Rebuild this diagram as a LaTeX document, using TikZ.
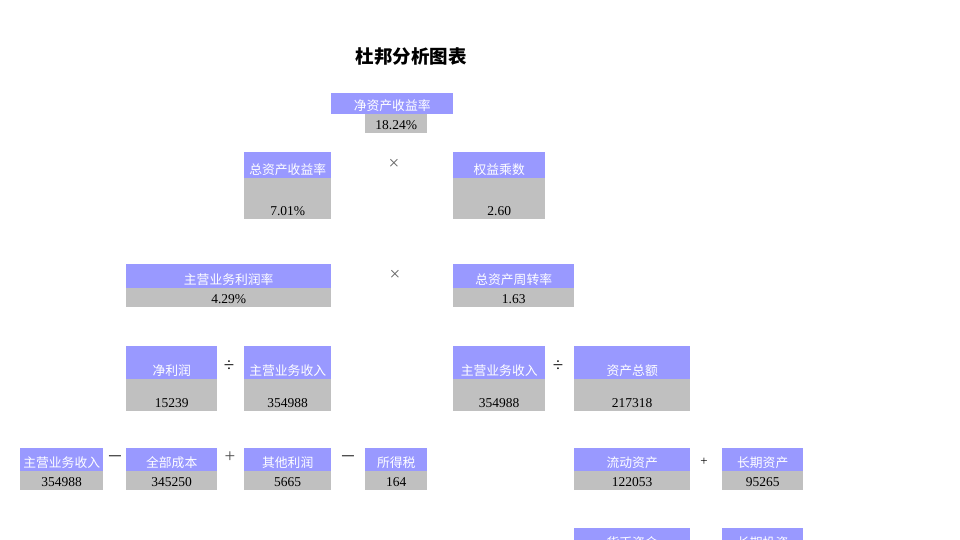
\documentclass[tikz,border=0pt]{standalone}
\usepackage{fontspec}
\setmainfont{Liberation Serif}
\newfontfamily\cjk{Noto Sans CJK SC}
\usepackage{tikz}
\usetikzlibrary{positioning}
\definecolor{headblue}{RGB}{153,153,255}
\definecolor{valgray}{RGB}{192,192,192}

\begin{document}
\begin{tikzpicture}[x=1pt, y=-1pt,
    head/.style={fill=headblue, text=white, font=\cjk\fontsize{12.8}{14}\selectfont,
        inner sep=0pt, text depth=3.5pt, text height=#1, anchor=north west},
    val/.style={fill=valgray, font=\fontsize{13.5}{15}\selectfont,
        inner sep=0pt, text depth=4pt, text height=#1, anchor=north west},
    op/.style={font=\fontsize{19}{20}\selectfont, inner sep=0pt}
]
    \useasboundingbox (0,0) rectangle (960,540);
    \clip (0,0) rectangle (960,540);

    % title
    \node[font=\cjk\bfseries\fontsize{18.5}{20}\selectfont] (title) at (411,57) {杜邦分析图表};

    % level 1: return on equity
    \node[head=17.5pt, minimum width=122] (roe) at (331,93) {净资产收益率};
    \node[val=15pt, minimum width=62] (roe val) at (365,114) {18.24\%};

    % level 2
    \node[head=22.5pt, minimum width=87] (roa) at (244,152) {总资产收益率};
    \node[val=37pt, minimum width=87] (roa val) at (244,178) {7.01\%};
    \node[op, text=black!60] (times1) at (394,164) {×};
    \node[head=22.5pt, minimum width=92] (em) at (453,152) {权益乘数};
    \node[val=37pt, minimum width=92] (em val) at (453,178) {2.60};

    % level 3
    \node[head=20.5pt, minimum width=205] (margin) at (126,264) {主营业务利润率};
    \node[val=15pt, minimum width=205] (margin val) at (126,288) {4.29\%};
    \node[op, text=black!60] (times2) at (395,275) {×};
    \node[head=20.5pt, minimum width=121] (turn) at (453,264) {总资产周转率};
    \node[val=15pt, minimum width=121] (turn val) at (453,288) {1.63};

    % level 4
    \node[head=29.5pt, minimum width=91] (profit) at (126,346) {净利润};
    \node[val=28pt, minimum width=91] (profit val) at (126,379) {15239};
    \node[op] (div1) at (229,366) {÷};
    \node[head=29.5pt, minimum width=87] (sales1) at (244,346) {主营业务收入};
    \node[val=28pt, minimum width=87] (sales1 val) at (244,379) {354988};
    \node[head=29.5pt, minimum width=92] (sales2) at (453,346) {主营业务收入};
    \node[val=28pt, minimum width=92] (sales2 val) at (453,379) {354988};
    \node[op] (div2) at (558,366) {÷};
    \node[head=29.5pt, minimum width=116] (assets) at (574,346) {资产总额};
    \node[val=28pt, minimum width=116] (assets val) at (574,379) {217318};

    % level 5
    \node[head=19.5pt, minimum width=83] (sales3) at (20,448) {主营业务收入};
    \node[val=15pt, minimum width=83] (sales3 val) at (20,471) {354988};
    \node[op, font=\cjk\fontsize{15}{16}\selectfont] (minus1) at (115,458) {—};
    \node[head=19.5pt, minimum width=91] (cost) at (126,448) {全部成本};
    \node[val=15pt, minimum width=91] (cost val) at (126,471) {345250};
    \node[op, text=black!70] (plus1) at (230,457) {+};
    \node[head=19.5pt, minimum width=87] (other) at (244,448) {其他利润};
    \node[val=15pt, minimum width=87] (other val) at (244,471) {5665};
    \node[op, font=\cjk\fontsize{15}{16}\selectfont] (minus2) at (348,458) {—};
    \node[head=19.5pt, minimum width=62] (tax) at (365,448) {所得税};
    \node[val=15pt, minimum width=62] (tax val) at (365,471) {164};
    \node[head=19.5pt, minimum width=116] (current) at (574,448) {流动资产};
    \node[val=15pt, minimum width=116] (current val) at (574,471) {122053};
    \node[op, font=\fontsize{13}{14}\selectfont] (plus2) at (704,462) {+};
    \node[head=19.5pt, minimum width=81] (longterm) at (722,448) {长期资产};
    \node[val=15pt, minimum width=81] (longterm val) at (722,471) {95265};

    % level 6 (cut off at the bottom)
    \node[head=19.5pt, minimum width=116] (cash) at (574,528) {货币资金};
    \node[head=19.5pt, minimum width=81] (invest) at (722,528) {长期投资};
\end{tikzpicture}
\end{document}
